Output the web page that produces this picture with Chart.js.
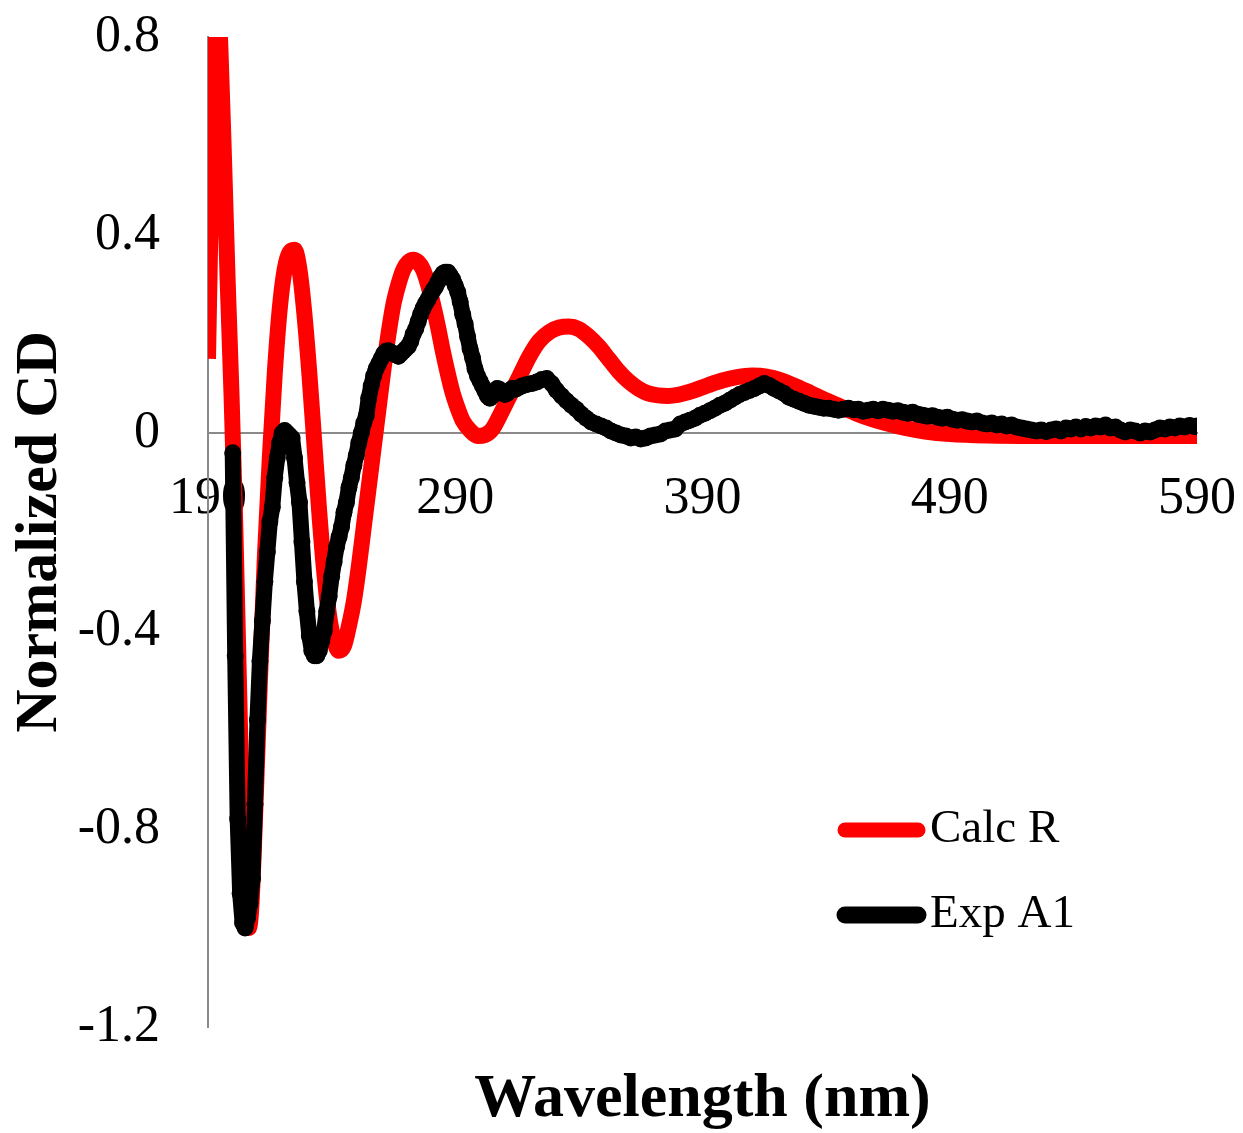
<!DOCTYPE html>
<html>
<head>
<meta charset="utf-8">
<title>Normalized CD</title>
<script src="https://cdn.jsdelivr.net/npm/chart.js@4/dist/chart.umd.min.js"></script>
<style>
  html, body { margin: 0; padding: 0; background: #fff; }
  canvas { display: block; }
</style>
</head>
<body>
<canvas id="cdChart" width="1243" height="1133"></canvas>
<script>
// ---------------- DATA ----------------
const xTicks = [190, 290, 390, 490, 590];
const yTicks = [-1.2, -0.8, -0.4, 0, 0.4, 0.8];
const seriesNames = ["Calc R", "Exp A1"];

// calculated spectrum (smooth)
const calcWl = [190, 191, 192, 193, 194, 195, 196.5, 198, 199.5, 201, 202.5, 204, 205.5, 206.5, 207.5, 209, 211, 213, 215, 217,
  219, 221, 223, 225, 227, 229, 231, 233, 235, 237, 239, 241, 243, 245, 247, 249, 251, 253, 255, 257,
  259, 261, 263, 265, 267, 269, 271, 273, 275, 277, 279, 281, 283, 285, 287, 289, 291, 293, 296, 299,
  302, 305, 308, 312, 316, 320, 324, 328, 332, 336, 340, 344, 348, 352, 356, 360, 364, 368, 372, 376, 380,
  386, 392, 398, 404, 410, 416, 422, 428, 434, 440, 446, 452, 458, 464, 472, 480, 490, 505, 530, 560, 590];
const calcCd = [0.15, 0.42, 0.70, 0.86, 0.88, 0.78, 0.55, 0.30, 0.08, -0.18, -0.50, -0.80, -0.97, -1.0, -0.96, -0.78, -0.50, -0.25, -0.05, 0.12,
  0.25, 0.33, 0.365, 0.37, 0.33, 0.24, 0.12, -0.02, -0.16, -0.28, -0.37, -0.42, -0.44, -0.43, -0.39, -0.34, -0.27, -0.19, -0.11, -0.03,
  0.05, 0.13, 0.20, 0.26, 0.30, 0.33, 0.345, 0.35, 0.345, 0.33, 0.30, 0.26, 0.215, 0.165, 0.12, 0.08, 0.05, 0.025, 0.005, -0.006,
  -0.004, 0.008, 0.035, 0.075, 0.115, 0.155, 0.186, 0.204, 0.213, 0.215, 0.21, 0.195, 0.175, 0.15, 0.125, 0.105, 0.09, 0.08, 0.076, 0.075, 0.077,
  0.085, 0.096, 0.106, 0.113, 0.116, 0.114, 0.106, 0.094, 0.08, 0.066, 0.053, 0.04, 0.029, 0.02, 0.01, 0.003, -0.002, -0.005, -0.006, -0.006, -0.006];

// experimental spectrum (noisy)
const expWl = [200, 201, 202, 203, 204, 205, 206, 207, 208, 209, 210, 211, 212, 213, 214, 215, 216, 217, 218, 219,
  220, 221, 222, 223, 224, 225, 226, 227, 228, 229, 230, 231, 232, 233, 234, 235, 236, 237, 238, 239,
  240, 241, 242, 243, 244, 245, 246, 247, 248, 249, 250, 251, 252, 253, 254, 255, 256, 257, 258, 259,
  260, 261, 262, 263, 264, 265, 266, 267, 268, 269, 270, 271, 272, 273, 274, 275, 276, 277, 278, 279,
  280, 281, 282, 283, 284, 285, 286, 287, 288, 289, 290, 291, 292, 293, 294, 295, 296, 297, 298, 299,
  300, 301, 302, 303, 304, 305, 306, 307, 308, 309, 310, 311, 312, 313, 314, 315, 317, 319, 321, 323,
  325, 327, 329, 331, 333, 335, 337, 339, 341, 343, 345, 347, 349, 351, 353, 355, 357, 359, 361, 363,
  365, 367, 369, 371, 373, 375, 377, 379, 381, 383, 385, 387, 389, 391, 393, 395, 397, 399, 401, 403,
  405, 407, 409, 411, 413, 415, 417, 419, 421, 423, 425, 427, 429, 431, 433, 435, 437, 439, 441, 443,
  445, 447, 449, 451, 453, 455, 457, 459, 461, 463, 465, 467, 469, 471, 473, 475, 477, 479, 481, 483,
  485, 487, 489, 491, 493, 495, 497, 499, 501, 503, 505, 507, 509, 511, 513, 515, 517, 519, 521, 523,
  525, 527, 529, 531, 533, 535, 537, 539, 541, 543, 545, 547, 549, 551, 553, 555, 557, 559, 561, 563,
  565, 567, 569, 571, 573, 575, 577, 579, 581, 583, 585, 587, 589, 590];
const expCd = [-0.04, -0.45, -0.78, -0.93, -0.99, -1.0, -0.98, -0.95, -0.90, -0.75, -0.58, -0.46, -0.38, -0.30, -0.24, -0.18, -0.15, -0.09, -0.05, -0.02,
  0.0, 0.005, 0.0, -0.005, -0.01, -0.05, -0.10, -0.14, -0.22, -0.30, -0.36, -0.41, -0.44, -0.45, -0.45, -0.44, -0.42, -0.40, -0.36, -0.33,
  -0.29, -0.26, -0.23, -0.21, -0.19, -0.16, -0.14, -0.11, -0.09, -0.065, -0.045, -0.02, 0.0, 0.02, 0.035, 0.07, 0.095, 0.115, 0.13, 0.14,
  0.15, 0.16, 0.165, 0.166, 0.163, 0.16, 0.158, 0.155, 0.16, 0.165, 0.17, 0.175, 0.185, 0.2, 0.21, 0.225, 0.24, 0.252, 0.262, 0.27,
  0.28, 0.288, 0.295, 0.305, 0.315, 0.322, 0.325, 0.325, 0.318, 0.31, 0.298, 0.285, 0.265, 0.24, 0.22, 0.195, 0.17, 0.152, 0.13, 0.115,
  0.105, 0.095, 0.085, 0.075, 0.07, 0.075, 0.085, 0.09, 0.088, 0.082, 0.078, 0.08, 0.085, 0.09, 0.088, 0.09, 0.095, 0.098, 0.1, 0.103,
  0.108, 0.11, 0.1, 0.086, 0.075, 0.065, 0.056, 0.048, 0.038, 0.03, 0.022, 0.018, 0.014, 0.01, 0.004, 0.0, -0.004, -0.006, -0.01, -0.008,
  -0.012, -0.01, -0.006, -0.004, -0.002, 0.004, 0.006, 0.008, 0.018, 0.022, 0.026, 0.03, 0.036, 0.04, 0.045, 0.05, 0.056, 0.06, 0.066, 0.072,
  0.078, 0.082, 0.086, 0.09, 0.095, 0.1, 0.096, 0.09, 0.085, 0.08, 0.072, 0.068, 0.064, 0.06, 0.056, 0.054, 0.052, 0.05, 0.05, 0.048,
  0.046, 0.048, 0.05, 0.047, 0.048, 0.044, 0.046, 0.048, 0.045, 0.048, 0.046, 0.044, 0.045, 0.042, 0.04, 0.042, 0.038, 0.036, 0.034, 0.035,
  0.032, 0.03, 0.032, 0.028, 0.026, 0.027, 0.024, 0.022, 0.024, 0.02, 0.018, 0.02, 0.016, 0.018, 0.014, 0.016, 0.012, 0.01, 0.008, 0.006,
  0.004, 0.006, 0.003, 0.006, 0.008, 0.004, 0.01, 0.008, 0.012, 0.008, 0.013, 0.01, 0.014, 0.012, 0.016, 0.01, 0.012, 0.006, 0.002, 0.006,
  0.004, 0.0, 0.004, 0.002, 0.006, 0.01, 0.008, 0.012, 0.01, 0.014, 0.012, 0.015, 0.013, 0.014];

const toPoints = (xs, ys) => xs.map((x, i) => ({ x: x, y: ys[i] }));

// scales should not reserve room for their overhanging labels
const noPadding = s => {
    s.paddingTop = 0;
    s.paddingBottom = 0;
    s.paddingLeft = 0;
    s.paddingRight = 0;
};

// ---------------- LEGEND (drawn inside the plot, lower right) ----------------
const legendBox = {
    id: "legendBox",
    afterDraw(chart) {
        const ctx = chart.ctx;
        const rows = [830, 915];
        ctx.save();
        ctx.font = "47px 'Liberation Serif', serif";
        ctx.textBaseline = "middle";
        ctx.textAlign = "left";
        chart.data.datasets.forEach((ds, i) => {
            const y = rows[i];
            ctx.strokeStyle = ds.borderColor;
            ctx.lineWidth = i === 0 ? 15 : 17;
            ctx.lineCap = "round";
            ctx.beginPath();
            ctx.moveTo(845, y);
            ctx.lineTo(918, y);
            ctx.stroke();
            ctx.fillStyle = "#000";
            ctx.fillText(ds.label, 930, y);
        });
        ctx.restore();
    }
};

// ---------------- CHART ----------------
new Chart(document.getElementById("cdChart"), {
    type: "line",
    data: {
        datasets: [
            {
                label: seriesNames[0],
                data: toPoints(calcWl, calcCd),
                borderColor: "#ff0000",
                borderWidth: 16,
                pointRadius: 0,
                cubicInterpolationMode: "monotone",
                clip: 0,
                order: 1
            },
            {
                label: seriesNames[1],
                data: toPoints(expWl, expCd),
                borderColor: "#000000",
                backgroundColor: "#000000",
                borderWidth: 16,
                borderJoinStyle: "round",
                tension: 0,
                pointRadius: 8.5,
                pointBorderWidth: 0,
                clip: 0,
                order: 0
            }
        ]
    },
    options: {
        responsive: false,
        animation: false,
        devicePixelRatio: 1,
        layout: { padding: { top: 37, right: 46, left: 0, bottom: 0 } },
        plugins: {
            legend: { display: false },
            tooltip: { enabled: false }
        },
        scales: {
            x: {
                type: "linear",
                position: { y: 0 },
                min: 190,
                max: 590,
                afterBuildTicks: s => { s.ticks = xTicks.map(v => ({ value: v })); },
                afterFit: noPadding,
                grid: { display: false, drawTicks: false },
                border: { display: true, color: "#8a8a8a", width: 2 },
                ticks: {
                    padding: 35,
                    color: "#000",
                    font: { family: "'Liberation Serif', serif", size: 52 },
                    maxRotation: 0
                }
            },
            xTitle: {
                type: "linear",
                axis: "x",
                position: "bottom",
                min: 0,
                max: 1,
                afterFit: s => { s.height = 106; noPadding(s); },
                grid: { display: false, drawTicks: false },
                border: { display: false },
                ticks: { display: false },
                title: {
                    display: true,
                    text: "Wavelength (nm)",
                    color: "#000",
                    padding: { top: 0, bottom: -4 },
                    font: { family: "'Liberation Serif', serif", size: 62, weight: "bold" }
                }
            },
            y: {
                type: "linear",
                min: -1.2,
                max: 0.8,
                afterBuildTicks: s => { s.ticks = yTicks.map(v => ({ value: v })); },
                afterFit: s => { s.width = 208; noPadding(s); },
                grid: { display: false, drawTicks: false },
                border: { display: true, color: "#8a8a8a", width: 2 },
                ticks: {
                    padding: 48,
                    color: "#000",
                    font: { family: "'Liberation Serif', serif", size: 52 },
                    callback: v => String(Math.round(v * 10) / 10)
                },
                title: {
                    display: true,
                    text: "Normalized CD",
                    color: "#000",
                    padding: { top: 4, bottom: 0 },
                    font: { family: "'Liberation Serif', serif", size: 60, weight: "bold" }
                }
            }
        }
    },
    plugins: [legendBox]
});
</script>
</body>
</html>
